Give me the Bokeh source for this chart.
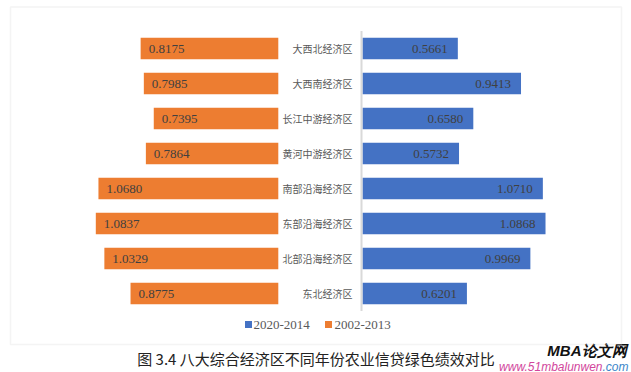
from bokeh.plotting import figure
from bokeh.models import ColumnDataSource, Range1d, BoxAnnotation
from bokeh.core.properties import value
from bokeh.embed import file_html
from bokeh.resources import INLINE

# ---- data ----
regions = ["大西北经济区", "大西南经济区", "长江中游经济区", "黄河中游经济区",
           "南部沿海经济区", "东部沿海经济区", "北部沿海经济区", "东北经济区"]
vals_2002_2013 = [0.8175, 0.7985, 0.7395, 0.7864, 1.0680, 1.0837, 1.0329, 0.8775]
vals_2020_2014 = [0.5661, 0.9413, 0.6580, 0.5732, 1.0710, 1.0868, 0.9969, 0.6201]
series_names = ["2020-2014", "2002-2013"]
caption = "图 3.4 八大综合经济区不同年份农业信贷绿色绩效对比"

BLUE = "#4472C4"
ORANGE = "#ED7D31"

W, H = 631, 372
PXU = 168.4      # pixels per value unit
ROW = 35.0       # pixels per row
BASE_PX = 362    # page x of blue baseline
GAP = 0.5        # gap (value units) between the two bases

def xd(px):
    return (px - BASE_PX) / PXU

def yd(py):
    return 8.143 - (py - 8) / ROW

n = len(regions)
ys = [n - 1 - i for i in range(n)]

src = ColumnDataSource(dict(
    y=ys, region=regions,
    o=vals_2002_2013, b=vals_2020_2014,
    o_left=[-GAP - v for v in vals_2002_2013],
    o_right=[-GAP] * n,
    b_left=[0] * n,
    o_txt=[f"{v:.4f}" for v in vals_2002_2013],
    b_txt=[f"{v:.4f}" for v in vals_2020_2014],
))

p = figure(width=W, height=H, output_backend="svg", toolbar_location=None,
           x_range=Range1d(xd(0), xd(W)), y_range=Range1d(yd(H), yd(0)),
           x_axis_location=None, y_axis_location=None, min_border=0)
p.grid.visible = False
p.outline_line_color = None
p.background_fill_color = "white"
p.border_fill_color = "white"

# outer frame
p.add_layout(BoxAnnotation(left=xd(10), right=xd(621), top=yd(6.5), bottom=yd(344),
                           fill_alpha=0, line_color="#d9d9d9", line_width=1.5))

# bars
p.hbar(y="y", left="o_left", right="o_right", height=0.61, source=src,
       fill_color=ORANGE, line_color=None)
p.hbar(y="y", left="b_left", right="b", height=0.61, source=src,
       fill_color=BLUE, line_color=None)

# axis line
p.segment(x0=[xd(361)], x1=[xd(361)], y0=[-0.5], y1=[n - 0.5],
          line_color="#d9d9d9", line_width=2)

# value labels
p.text(x="o_left", y="y", text="o_txt", source=src, x_offset=8,
       text_align="left", text_baseline="middle",
       text_font=value("Liberation Serif"), text_font_size="13px", text_color="#404040")
p.text(x="b", y="y", text="b_txt", source=src, x_offset=-10,
       text_align="right", text_baseline="middle",
       text_font=value("Liberation Serif"), text_font_size="13px", text_color="#404040")

# category labels
p.text(x="b_left", y="y", text="region", source=src, x_offset=-10,
       text_align="right", text_baseline="middle",
       text_font=value("Noto Sans CJK SC"), text_font_size="10px", text_color="#595959")

# legend (manual)
p.scatter(x=[xd(248), xd(328)], y=[yd(324), yd(324)], marker="square", size=7,
          fill_color=[BLUE, ORANGE], line_color=None)
p.text(x=[xd(253), xd(334)], y=[yd(324), yd(324)], text=series_names,
       text_align="left", text_baseline="middle",
       text_font=value("Liberation Serif"), text_font_size="13px", text_color="#595959")

# caption
p.text(x=[xd(315.5)], y=[yd(358)], text=[caption], text_align="center",
       text_baseline="middle", text_font=value("Noto Sans CJK SC"),
       text_font_size="15px", text_color="#222222")

# watermark
p.text(x=[xd(626)], y=[yd(350)], text=["MBA论文网"], text_align="right",
       text_baseline="middle", text_font=value("Liberation Sans"),
       text_font_style="bold italic", text_font_size="15px", text_color="#111111")
p.text(x=[xd(602)], y=[yd(366)], text=["www.51mbalunwen"], text_align="right",
       text_baseline="middle", text_font=value("Liberation Sans"),
       text_font_style="italic", text_font_size="12px", text_color="#d2469c")
p.text(x=[xd(628)], y=[yd(366)], text=[".com"], text_align="right",
       text_baseline="middle", text_font=value("Liberation Sans"),
       text_font_style="italic", text_font_size="12px", text_color="#3b86c9")

open("out.html", "w").write(file_html(p, INLINE))
